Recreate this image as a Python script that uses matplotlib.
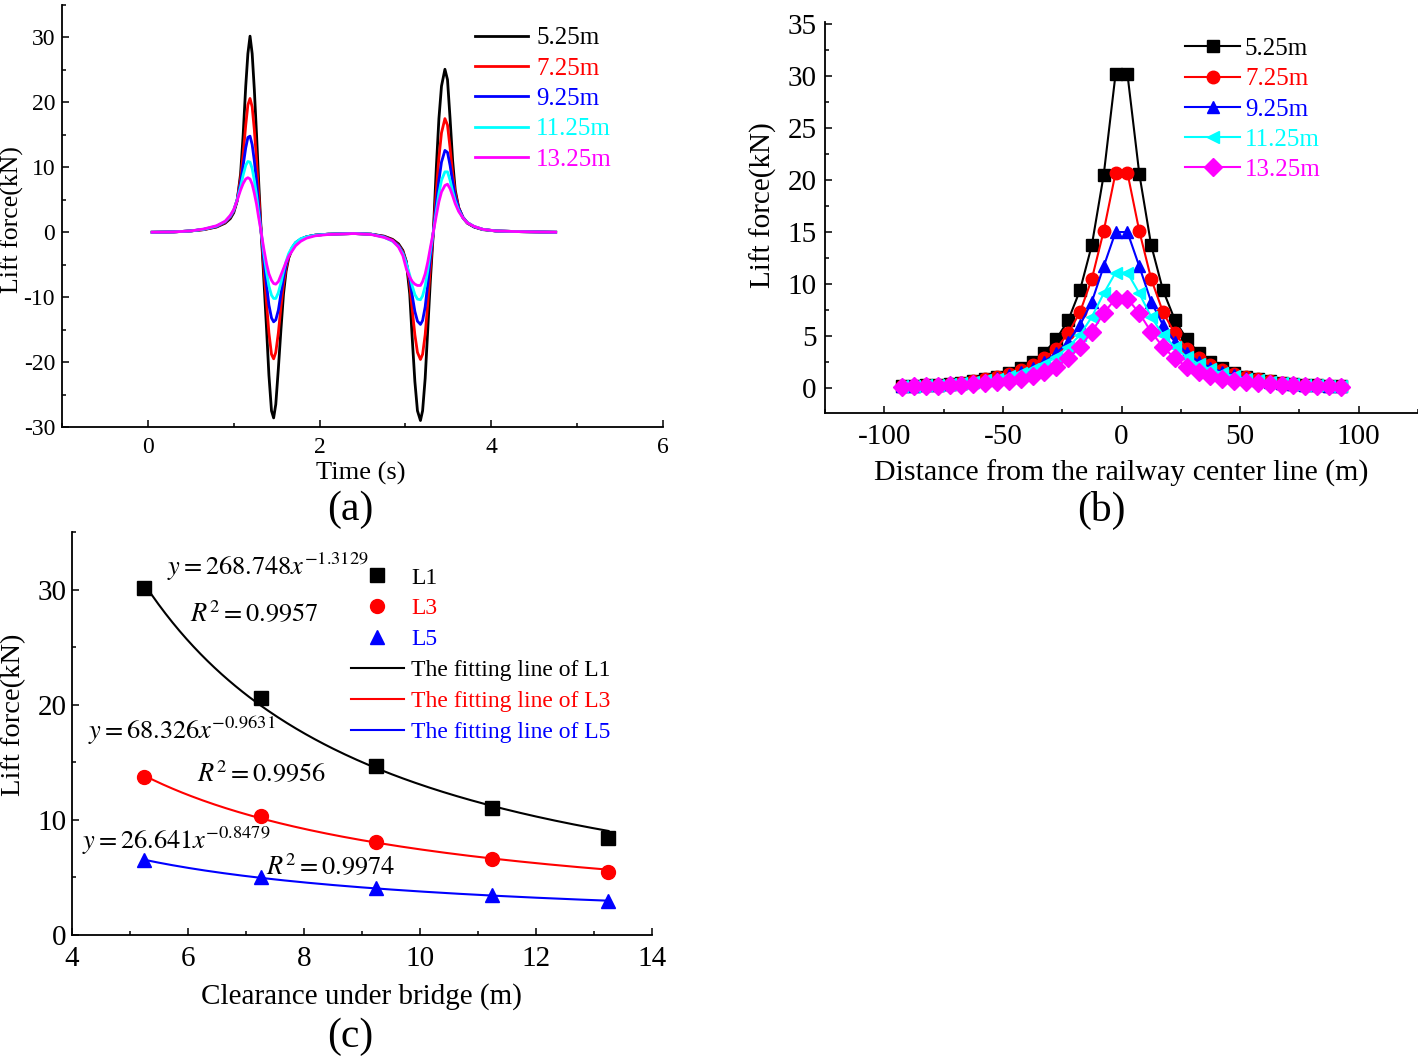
import matplotlib
matplotlib.use('Agg')
import matplotlib.pyplot as plt
import numpy as np
from matplotlib.ticker import MultipleLocator

plt.rcParams['font.family'] = ['Liberation Serif', 'DejaVu Serif']
plt.rcParams['mathtext.fontset'] = 'stix'
plt.rcParams['axes.unicode_minus'] = False

# ---------------- Panel (a): lift force time histories ----------------
heights = ['5.25m', '7.25m', '9.25m', '11.25m', '13.25m']
colors = ['black', 'red', 'blue', 'cyan', 'magenta']

time_s = [0.05, 0.30, 0.50, 0.65, 0.80, 0.90, 0.96, 1.00, 1.04, 1.08,
          1.11, 1.14, 1.165, 1.19, 1.215, 1.24, 1.266, 1.29, 1.32, 1.35,
          1.383, 1.41, 1.44, 1.465, 1.49, 1.52, 1.55, 1.58, 1.61, 1.64,
          1.68, 1.72, 1.78, 1.85, 1.95, 2.10, 2.40,
          2.60, 2.75, 2.85, 2.92, 2.97, 3.01, 3.05, 3.08, 3.11, 3.14,
          3.175, 3.20, 3.23, 3.26, 3.29, 3.325, 3.36, 3.39, 3.42, 3.46,
          3.49, 3.52, 3.55, 3.58, 3.62, 3.67, 3.72, 3.80, 3.90, 4.05,
          4.30, 4.75]

lift_525 = [0.0, 0.05, 0.2, 0.4, 0.8, 1.4, 2.1, 3.0, 4.8, 9.0,
            15.0, 22.5, 27.5, 30.2, 27.5, 22.0, 15.0, 8.0, 0.0, -7.0,
            -15.0, -22.0, -27.5, -28.6, -26.5, -21.0, -15.0, -9.5, -6.0, -4.0,
            -2.6, -1.8, -1.1, -0.7, -0.45, -0.3, -0.2,
            -0.3, -0.6, -1.1, -1.8, -2.8, -4.5, -9.5, -16.5, -23.0, -27.5,
            -29.0, -27.5, -22.5, -15.0, -7.5, 0.0, 10.0, 17.5, 22.5, 25.1,
            23.5, 17.5, 11.0, 6.5, 3.8, 2.2, 1.4, 0.8, 0.4, 0.2,
            0.1, 0.0]
lift_725 = [0.0, 0.05, 0.2, 0.4, 0.85, 1.5, 2.3, 3.2, 5.0, 8.3,
            12.0, 16.5, 19.6, 20.6, 19.3, 15.8, 11.0, 6.0, 0.0, -5.5,
            -11.0, -15.5, -18.8, -19.5, -18.5, -15.5, -11.5, -8.0, -5.5, -3.8,
            -2.5, -1.7, -1.1, -0.7, -0.45, -0.3, -0.2,
            -0.3, -0.65, -1.2, -2.0, -3.0, -4.6, -8.0, -12.0, -15.8, -18.5,
            -19.6, -18.8, -15.8, -11.0, -5.5, 0.0, 6.5, 11.5, 15.3, 17.5,
            16.5, 13.0, 9.0, 6.0, 3.8, 2.3, 1.5, 0.85, 0.45, 0.2,
            0.1, 0.0]
lift_925 = [0.0, 0.05, 0.2, 0.45, 0.9, 1.6, 2.4, 3.3, 5.0, 7.6,
            10.3, 13.0, 14.6, 14.8, 13.5, 11.0, 7.8, 4.2, 0.0, -4.2,
            -8.2, -11.2, -13.2, -13.8, -13.5, -12.0, -9.5, -7.0, -5.0, -3.6,
            -2.4, -1.6, -1.05, -0.7, -0.45, -0.3, -0.2,
            -0.3, -0.7, -1.3, -2.1, -3.2, -4.7, -7.2, -9.8, -12.2, -13.7,
            -14.2, -13.6, -11.5, -8.0, -4.0, 0.0, 4.5, 8.0, 10.8, 12.6,
            12.3, 10.3, 7.8, 5.5, 3.7, 2.3, 1.5, 0.85, 0.45, 0.2,
            0.1, 0.0]
lift_1125 = [0.0, 0.05, 0.2, 0.45, 0.95, 1.65, 2.5, 3.4, 5.0, 7.0,
             8.8, 10.3, 10.9, 10.8, 9.8, 8.0, 5.7, 3.0, 0.0, -3.2,
             -6.2, -8.3, -9.7, -10.2, -10.2, -9.3, -7.8, -6.0, -4.5, -3.3,
             -2.3, -1.6, -1.0, -0.7, -0.45, -0.3, -0.2,
             -0.3, -0.75, -1.4, -2.2, -3.3, -4.8, -6.6, -8.3, -9.6, -10.3,
             -10.4, -9.8, -8.3, -5.9, -3.0, 0.0, 3.3, 6.0, 8.0, 9.3,
             9.3, 8.0, 6.3, 4.8, 3.4, 2.2, 1.5, 0.9, 0.45, 0.2,
             0.1, 0.0]
lift_1325 = [0.0, 0.05, 0.2, 0.5, 1.0, 1.7, 2.6, 3.5, 4.9, 6.5,
             7.5, 8.2, 8.4, 8.2, 7.4, 6.0, 4.3, 2.3, 0.0, -2.5,
             -4.9, -6.4, -7.4, -7.9, -8.0, -7.6, -6.6, -5.6, -4.6, -3.7,
             -2.9, -2.1, -1.4, -0.9, -0.55, -0.35, -0.2,
             -0.35, -0.8, -1.3, -2.3, -3.6, -5.6, -6.9, -7.6, -8.0, -8.2,
             -8.2, -7.6, -6.4, -4.6, -2.4, 0.0, 2.6, 4.7, 6.2, 7.2,
             7.4, 6.7, 5.6, 4.4, 3.2, 2.2, 1.45, 0.9, 0.45, 0.2,
             0.1, 0.0]

# ---------------- Panel (b): peak lift force vs distance ----------------
distance_m = [-92.5, -87.5, -82.5, -77.5, -72.5, -67.5, -62.5, -57.5, -52.5, -47.5,
              -42.5, -37.5, -32.5, -27.5, -22.5, -17.5, -12.5, -7.5, -2.5,
              2.5, 7.5, 12.5, 17.5, 22.5, 27.5, 32.5, 37.5, 42.5, 47.5,
              52.5, 57.5, 62.5, 67.5, 72.5, 77.5, 82.5, 87.5, 92.5]
peak_525 = [0.19, 0.23, 0.28, 0.34, 0.42, 0.52, 0.66, 0.85, 1.1, 1.45,
            1.9, 2.5, 3.4, 4.7, 6.5, 9.4, 13.75, 20.5, 30.2,
            30.2, 20.6, 13.75, 9.4, 6.55, 4.7, 3.4, 2.5, 1.9, 1.45,
            1.1, 0.85, 0.66, 0.52, 0.42, 0.34, 0.28, 0.23, 0.19]
peak_725 = [0.19, 0.23, 0.28, 0.34, 0.42, 0.52, 0.65, 0.83, 1.05, 1.35,
            1.72, 2.2, 2.85, 3.8, 5.25, 7.3, 10.5, 15.1, 20.7,
            20.7, 15.1, 10.5, 7.3, 5.25, 3.8, 2.85, 2.2, 1.72, 1.35,
            1.05, 0.83, 0.65, 0.52, 0.42, 0.34, 0.28, 0.23, 0.19]
peak_925 = [0.18, 0.22, 0.27, 0.33, 0.41, 0.5, 0.62, 0.77, 0.96, 1.22,
            1.55, 1.97, 2.55, 3.35, 4.45, 6.05, 8.3, 11.7, 15.0,
            15.0, 11.7, 8.3, 6.05, 4.45, 3.35, 2.55, 1.97, 1.55, 1.22,
            0.96, 0.77, 0.62, 0.5, 0.41, 0.33, 0.27, 0.22, 0.18]
peak_1125 = [0.17, 0.21, 0.26, 0.32, 0.39, 0.48, 0.59, 0.73, 0.9, 1.13,
             1.42, 1.8, 2.3, 3.0, 3.95, 5.1, 6.85, 9.1, 11.1,
             11.1, 9.1, 6.85, 5.1, 3.95, 3.0, 2.3, 1.8, 1.42, 1.13,
             0.9, 0.73, 0.59, 0.48, 0.39, 0.32, 0.26, 0.21, 0.17]
peak_1325 = [0.13, 0.15, 0.18, 0.21, 0.25, 0.3, 0.36, 0.44, 0.54, 0.68,
             0.86, 1.12, 1.5, 2.05, 2.85, 3.95, 5.4, 7.2, 8.6,
             8.6, 7.2, 5.4, 3.95, 2.85, 2.05, 1.5, 1.12, 0.86, 0.68,
             0.54, 0.44, 0.36, 0.3, 0.25, 0.21, 0.18, 0.15, 0.13]
markers_b = ['s', 'o', '^', '<', 'D']

# ---------------- Panel (c): lift force vs clearance ----------------
clearance_m = [5.25, 7.25, 9.25, 11.25, 13.25]
force_L1 = [30.1, 20.6, 14.7, 11.0, 8.4]
force_L3 = [13.7, 10.35, 8.05, 6.6, 5.45]
force_L5 = [6.55, 5.05, 4.1, 3.5, 2.95]
fit_coef = ['268.748', '68.326', '26.641']
fit_exp = ['1.3129', '0.9631', '0.8479']
fit_r2 = ['0.9957', '0.9956', '0.9974']

# ---------------- Figure ----------------
W, H = 1418, 1060
fig = plt.figure(figsize=(W / 100, H / 100), dpi=100)


def add_ax(x0, y0, x1, y1):
    return fig.add_axes([x0 / W, 1 - y1 / H, (x1 - x0) / W, (y1 - y0) / H])


def style(ax, fs, padx, pady):
    for s in ['top', 'right']:
        ax.spines[s].set_visible(False)
    for s in ['left', 'bottom']:
        ax.spines[s].set_linewidth(1.3)
    ax.tick_params(which='both', direction='in', width=1.1, labelsize=fs)
    ax.tick_params(which='major', length=5)
    ax.tick_params(which='minor', length=3)
    ax.tick_params(axis='x', pad=padx)
    ax.tick_params(axis='y', pad=pady)


axa = add_ax(62, 5, 663, 427)
axb = add_ax(825, 22, 1418, 413)
axc = add_ax(72, 532, 652, 935)

# (a)
series_a = [lift_525, lift_725, lift_925, lift_1125, lift_1325]
for vals, c, lab in zip(series_a, colors, heights):
    axa.plot(time_s, vals, color=c, lw=2.0, label=lab, solid_joinstyle='round')
axa.set_xlim(-1, 6)
axa.set_ylim(-30, 35)
axa.xaxis.set_major_locator(MultipleLocator(2))
axa.xaxis.set_minor_locator(MultipleLocator(1))
axa.yaxis.set_major_locator(MultipleLocator(10))
axa.yaxis.set_minor_locator(MultipleLocator(5))
style(axa, 17, 7, 5)
axa.set_xlabel('Time (s)', fontsize=19, va='center')
axa.xaxis.set_label_coords((361 - 62) / 601, (427 - 473) / 422)
axa.set_ylabel('Lift force(kN)', fontsize=18.5, va='center', ha='center')
axa.yaxis.set_label_coords((12 - 62) / 601, (427 - 220) / 422)
lega = axa.legend(loc='upper left', bbox_to_anchor=((475 - 62) / 601, (427 - 27) / 422),
                  frameon=False, fontsize=18, handlelength=2.12, handletextpad=0.32,
                  labelspacing=0.31, borderpad=0, borderaxespad=0)
for t, c in zip(lega.get_texts(), colors):
    t.set_color(c)

# (b)
series_b = [peak_525, peak_725, peak_925, peak_1125, peak_1325]
for vals, c, m, lab in zip(series_b, colors, markers_b, heights):
    axb.plot(distance_m, vals, color=c, lw=1.5, marker=m, ms=9, label=lab)
axb.set_xlim(-125, 125)
axb.set_ylim(-2.4, 35.2)
axb.xaxis.set_major_locator(MultipleLocator(50))
axb.xaxis.set_minor_locator(MultipleLocator(25))
axb.yaxis.set_major_locator(MultipleLocator(5))
axb.yaxis.set_minor_locator(MultipleLocator(2.5))
style(axb, 21, 8, 6)
axb.set_xlabel('Distance from the railway center line (m)', fontsize=21.5, va='center')
axb.xaxis.set_label_coords((1121 - 825) / 593, (413 - 473) / 391)
axb.set_ylabel('Lift force(kN)', fontsize=21, va='center', ha='center')
axb.yaxis.set_label_coords((763 - 825) / 593, (413 - 205) / 391)
legb = axb.legend(loc='upper left', bbox_to_anchor=((1185 - 825) / 593, (413 - 37.5) / 391),
                  frameon=False, fontsize=18, handlelength=2.2, handletextpad=0.2,
                  labelspacing=0.31, borderpad=0, borderaxespad=0)
for t, c in zip(legb.get_texts(), colors):
    t.set_color(c)

# (c)
force_sets = [force_L1, force_L3, force_L5]
names = ['L1', 'L3', 'L5']
cols_c = ['black', 'red', 'blue']
marks_c = ['s', 'o', '^']
for vals, c, m, n in zip(force_sets, cols_c, marks_c, names):
    axc.plot(clearance_m, vals, linestyle='none', marker=m, ms=10, color=c, label=n, zorder=3)
xfit = np.linspace(clearance_m[0], clearance_m[-1], 200)
for a, b, c, n in zip(fit_coef, fit_exp, cols_c, names):
    axc.plot(xfit, float(a) * xfit ** (-float(b)), color=c, lw=1.5,
             label='The fitting line of ' + n, zorder=2)
axc.set_xlim(4, 14)
axc.set_ylim(0, 35)
axc.xaxis.set_major_locator(MultipleLocator(2))
axc.xaxis.set_minor_locator(MultipleLocator(1))
axc.yaxis.set_major_locator(MultipleLocator(10))
axc.yaxis.set_minor_locator(MultipleLocator(5))
style(axc, 21, 8, 4)
axc.set_xlabel('Clearance under bridge (m)', fontsize=21, va='center')
axc.xaxis.set_label_coords((361 - 72) / 580, (935 - 997) / 403)
axc.set_ylabel('Lift force(kN)', fontsize=20.5, va='center', ha='center')
axc.yaxis.set_label_coords((14 - 72) / 580, (935 - 715) / 403)
legc = axc.legend(loc='upper left', bbox_to_anchor=((351 - 72) / 580, (935 - 567) / 403),
                  frameon=False, fontsize=17, handlelength=2.24, handletextpad=0.3,
                  labelspacing=0.40, borderpad=0, borderaxespad=0)
for t, c in zip(legc.get_texts(), cols_c + cols_c):
    t.set_color(c)

eq_pos = [(5.64, 32.0), (4.28, 17.7), (4.17, 8.15)]
r2_pos = [(6.03, 28.0), (6.16, 14.05), (7.34, 6.0)]
for a, b, r2, (ex, ey), (rx, ry) in zip(fit_coef, fit_exp, fit_r2, eq_pos, r2_pos):
    axc.text(ex, ey, r'$y = %s x^{-%s}$' % (a, b), fontsize=19, va='center', ha='left')
    axc.text(rx, ry, r'$R^2 = %s$' % r2, fontsize=19, va='center', ha='left')

# Panel tags
fig.text(350 / W, 1 - 510 / H, '(a)', fontsize=30, ha='center', va='center')
fig.text(1101 / W, 1 - 510 / H, '(b)', fontsize=30, ha='center', va='center')
fig.text(350 / W, 1 - 1037 / H, '(c)', fontsize=30, ha='center', va='center')

fig.savefig('out.png', dpi=100)
